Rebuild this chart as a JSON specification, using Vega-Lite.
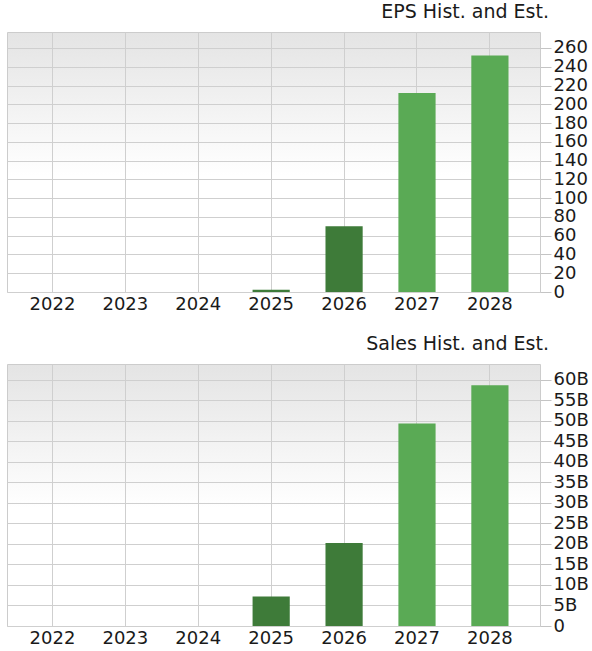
{
  "$schema": "https://vega.github.io/schema/vega-lite/v6.json",
  "padding": {"left": 6, "top": 2, "right": 2, "bottom": 0},
  "spacing": 20,
  "datasets": {
    "eps": [
      {"year": "2025", "kind": "Hist", "value": 2.5},
      {"year": "2026", "kind": "Hist", "value": 70},
      {"year": "2027", "kind": "Est", "value": 212},
      {"year": "2028", "kind": "Est", "value": 252}
    ],
    "sales": [
      {"year": "2025", "kind": "Hist", "value": 7200000000},
      {"year": "2026", "kind": "Hist", "value": 20200000000},
      {"year": "2027", "kind": "Est", "value": 49300000000},
      {"year": "2028", "kind": "Est", "value": 58600000000}
    ]
  },
  "vconcat": [
    {
      "title": {"text": "EPS Hist. and Est."},
      "data": {"name": "eps"},
      "width": 533,
      "height": 260,
      "mark": {"type": "bar"},
      "encoding": {
        "x": {
          "field": "year", "type": "ordinal",
          "scale": {"domain": ["2022", "2023", "2024", "2025", "2026", "2027", "2028"], "paddingInner": 0.49, "paddingOuter": 0.4, "align": 0.46},
          "axis": {"title": null}
        },
        "y": {
          "field": "value", "type": "quantitative",
          "scale": {"domain": [0, 277], "nice": false},
          "axis": {"title": null, "values": [0, 20, 40, 60, 80, 100, 120, 140, 160, 180, 200, 220, 240, 260]}
        },
        "color": {
          "field": "kind", "type": "nominal",
          "scale": {"domain": ["Hist", "Est"], "range": ["#3e7b39", "#5aaa55"]},
          "legend": null
        }
      }
    },
    {
      "title": {"text": "Sales Hist. and Est."},
      "data": {"name": "sales"},
      "width": 533,
      "height": 262,
      "mark": {"type": "bar"},
      "encoding": {
        "x": {
          "field": "year", "type": "ordinal",
          "scale": {"domain": ["2022", "2023", "2024", "2025", "2026", "2027", "2028"], "paddingInner": 0.49, "paddingOuter": 0.4, "align": 0.46},
          "axis": {"title": null}
        },
        "y": {
          "field": "value", "type": "quantitative",
          "scale": {"domain": [0, 63800000000], "nice": false},
          "axis": {
            "title": null,
            "values": [0, 5000000000, 10000000000, 15000000000, 20000000000, 25000000000, 30000000000, 35000000000, 40000000000, 45000000000, 50000000000, 55000000000, 60000000000],
            "labelExpr": "datum.value == 0 ? '0' : round(datum.value / 1e9) + 'B'"
          }
        },
        "color": {
          "field": "kind", "type": "nominal",
          "scale": {"domain": ["Hist", "Est"], "range": ["#3e7b39", "#5aaa55"]},
          "legend": null
        }
      }
    }
  ],
  "config": {
    "font": "DejaVu Sans",
    "background": "white",
    "view": {
      "stroke": "#cccccc",
      "strokeWidth": 1,
      "fill": {
        "gradient": "linear",
        "x1": 0, "y1": 0, "x2": 0, "y2": 1,
        "stops": [
          {"offset": 0, "color": "#e4e4e4"},
          {"offset": 0.55, "color": "#ffffff"},
          {"offset": 1, "color": "#ffffff"}
        ]
      }
    },
    "title": {
      "anchor": "end",
      "frame": "group",
      "dx": 9,
      "offset": 10,
      "baseline": "alphabetic",
      "fontSize": 19,
      "fontWeight": "normal",
      "color": "#1a1a1a"
    },
    "axisX": {
      "orient": "bottom",
      "labelAngle": 0,
      "ticks": false,
      "domain": false,
      "grid": true,
      "gridColor": "#cfcfcf",
      "gridOpacity": 1,
      "labelPadding": 3,
      "labelFontSize": 18,
      "labelColor": "#1a1a1a"
    },
    "axisY": {
      "orient": "right",
      "domain": false,
      "grid": true,
      "gridColor": "#cfcfcf",
      "gridOpacity": 1,
      "tickColor": "#c4c4c4",
      "tickSize": 11,
      "labelPadding": 2,
      "labelFontSize": 18,
      "labelColor": "#1a1a1a",
      "labelOverlap": false,
      "labelBound": false
    }
  }
}
